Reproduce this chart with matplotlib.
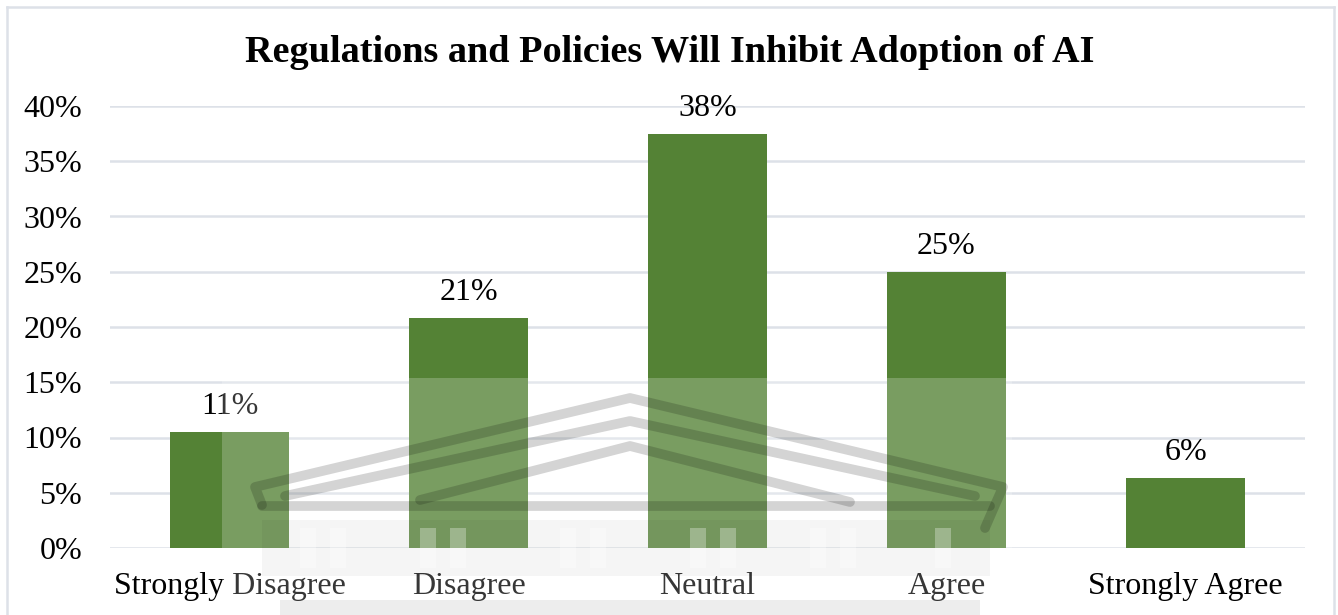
import matplotlib
matplotlib.use("Agg")
import matplotlib.pyplot as plt
from matplotlib.patches import Rectangle
from matplotlib.lines import Line2D
from matplotlib.ticker import FuncFormatter, MultipleLocator

plt.rcParams["font.family"] = ["Liberation Serif", "DejaVu Serif"]

# Survey responses
categories = ["Strongly Disagree", "Disagree", "Neutral", "Agree", "Strongly Agree"]
shares = [0.105, 0.208, 0.375, 0.250, 0.063]
title = "Regulations and Policies Will Inhibit Adoption of AI"

BAR = "#548235"
GRID = "#dde1e8"


def pct(v):
    return f"{int(v * 100 + 0.5)}%"


W, H = 1338, 615
fig = plt.figure(figsize=(W / 100, H / 100), dpi=100)
ax = fig.add_axes([110 / W, 1 - 548 / H, 1195 / W, 442 / H])

x = list(range(len(categories)))
bars = ax.bar(x, shares, width=0.5, color=BAR, zorder=2)

ax.set_xlim(-0.5, len(categories) - 0.5)
ax.set_ylim(0, 0.40)
ax.yaxis.set_major_locator(MultipleLocator(0.05))
ax.yaxis.set_major_formatter(FuncFormatter(lambda v, _: pct(v)))
ax.grid(axis="y", color=GRID, linewidth=1.8, zorder=0)
ax.set_axisbelow(True)
for s in ax.spines.values():
    s.set_visible(False)
ax.tick_params(length=0)
ax.tick_params(axis="y", labelsize=23, pad=20)
ax.set_xticks(x)
ax.set_xticklabels(categories, fontsize=23)
ax.tick_params(axis="x", pad=17)

for rect, v in zip(bars, shares):
    ax.annotate(pct(v), (rect.get_x() + rect.get_width() / 2, v),
                xytext=(0, 8), textcoords="offset points",
                ha="center", va="bottom", fontsize=23)

fig.text(670 / W, 1 - 52 / H, title, ha="center", va="center",
         fontsize=27.5, fontweight="bold")

# Overlay layer in pixel coordinates: frame and faint building emblem
ov = fig.add_axes([0, 0, 1, 1], zorder=5)
ov.set_xlim(0, W)
ov.set_ylim(H, 0)
ov.axis("off")
ov.patch.set_alpha(0)

for xs, ys in [((7, 7), (7, H)), ((7, 1334), (7, 7)), ((1334, 1334), (7, H))]:
    ov.add_line(Line2D(xs, ys, color="#dde1e8", linewidth=1.8))

ov.add_patch(Rectangle((222, 378), 790, 237, facecolor="white",
                       alpha=0.22, edgecolor="none"))

ink = dict(color="black", alpha=0.17, linewidth=7,
           solid_joinstyle="round", solid_capstyle="round")
# roof outline, inner pediment and entablature
ov.add_line(Line2D([262, 255, 630, 1003, 995, 985],
                   [505, 487, 398, 487, 505, 528], **ink))
ov.add_line(Line2D([285, 630, 975], [496, 421, 496], **ink))
ov.add_line(Line2D([420, 630, 850], [500, 446, 502], **ink))
ov.add_line(Line2D([262, 990], [506, 506], **ink))
# columns band
ov.add_patch(Rectangle((262, 520), 728, 56, facecolor="black",
                       alpha=0.04, edgecolor="none"))
for cx in [300, 330, 420, 450, 560, 590, 690, 720, 810, 840, 935]:
    ov.add_patch(Rectangle((cx, 528), 16, 40, facecolor="white",
                           alpha=0.3, edgecolor="none"))
ov.add_patch(Rectangle((280, 600), 700, 15, facecolor="black",
                       alpha=0.07, edgecolor="none"))

fig.savefig("out.png", dpi=100)
